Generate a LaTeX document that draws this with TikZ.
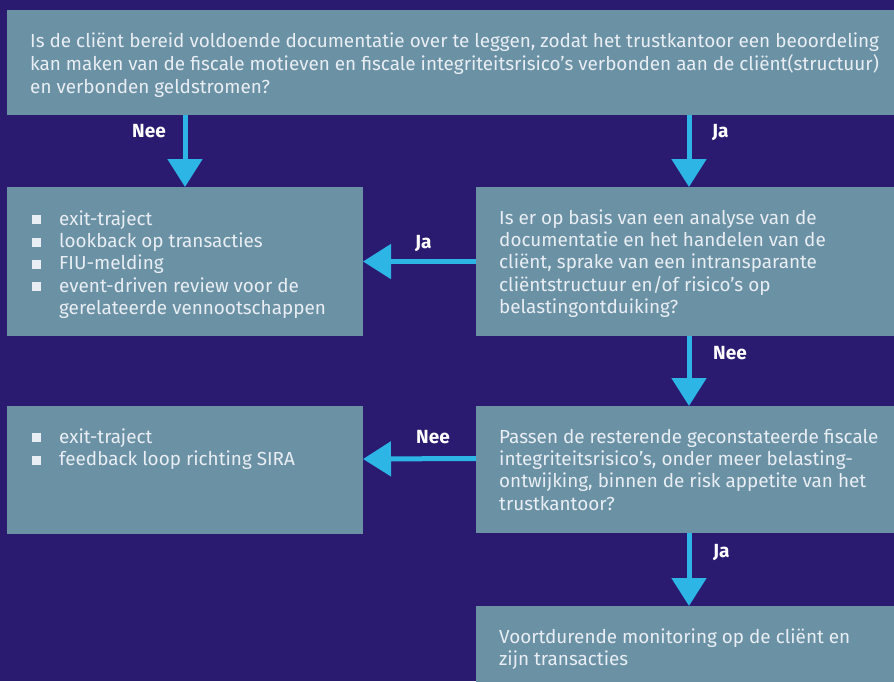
\documentclass[tikz,border=0pt]{standalone}
\usepackage{fontspec}
\setmainfont{Fira Sans}
\usetikzlibrary{arrows.meta}
\definecolor{bg}{HTML}{2A1B71}
\definecolor{boxc}{HTML}{6B91A5}
\definecolor{arrc}{HTML}{2DB5E6}
\definecolor{txtc}{HTML}{E8EEF3}
\newcommand{\bul}{\raisebox{1pt}{\rule{9pt}{9pt}}\hspace{18pt}}
\begin{document}
\begin{tikzpicture}[x=1pt,y=-1pt,
 box/.style={fill=boxc, draw=none, anchor=north west, inner sep=0pt, outer sep=0pt},
 txt/.style={anchor=north west, inner sep=0pt, align=left, text=txtc, font=\fontsize{18.9}{22.3}\selectfont},
 lbl/.style={anchor=base west, inner sep=0pt, text=white, font=\fontsize{19}{20}\selectfont\bfseries},
 arr/.style={draw=arrc, line width=5pt, -{Triangle[width=34pt,length=28pt]}}]
\fill[bg] (0,0) rectangle (894,681);
\useasboundingbox (0,0) rectangle (894,681);
\clip (0,0) rectangle (894,681);
% boxes
\node[box, minimum width=895pt, minimum height=105pt] (q1) at (7,10) {};
\node[box, minimum width=356pt, minimum height=149pt] (l1) at (7,187) {};
\node[box, minimum width=426pt, minimum height=149pt] (r1) at (476,187) {};
\node[box, minimum width=356pt, minimum height=128pt] (l2) at (7,406) {};
\node[box, minimum width=426pt, minimum height=127pt] (r2) at (476,406) {};
\node[box, minimum width=426pt, minimum height=100pt] (r3) at (476,606) {};
% texts
\node[txt] (t1) at (30,31.4) {\strut Is de cliënt bereid voldoende documentatie over te leggen, zodat het trustkantoor een beoordeling\\
kan maken van de fiscale motieven en fiscale integriteitsrisico’s verbonden aan de cliënt(structuur)\\
en verbonden geldstromen?};
\node[txt] (t2) at (32,209.4) {\strut\bul exit-traject\\
\bul lookback op transacties\\
\bul FIU-melding\\
\bul event-driven review voor de\\
\hspace{27pt}gerelateerde vennootschappen};
\node[txt] (t3) at (499,208.4) {\strut Is er op basis van een analyse van de\\
documentatie en het handelen van de\\
cliënt, sprake van een intransparante\\
cliëntstructuur en/of risico’s op\\
belastingontduiking?};
\node[txt] (t4) at (32,427.4) {\strut\bul exit-traject\\
\bul feedback loop richting SIRA};
\node[txt] (t5) at (499,427.4) {\strut Passen de resterende geconstateerde fiscale\\
integriteitsrisico’s, onder meer belasting-\\
ontwijking, binnen de risk appetite van het\\
trustkantoor?};
\node[txt] (t6) at (499,627.4) {\strut Voortdurende monitoring op de cliënt en\\
zijn transacties};
% connectors
\draw[arr] (q1.south -| l1.north) -- (l1.north);
\draw[arr] (q1.south -| r1.north) -- (r1.north);
\draw[arr] (r1.west) -- (l1.east);
\draw[arr] (r1.south) -- (r2.north);
\draw[arr] ([yshift=11pt]r2.west) -- ([yshift=11pt]l2.east);
\draw[arr] (r2.south) -- (r3.north);
% labels
\node[lbl] (n1) at (132,137) {Nee};
\node[lbl] (j1) at (712,137) {Ja};
\node[lbl] (j2) at (415,248) {Ja};
\node[lbl] (n2) at (713,359) {Nee};
\node[lbl] (n3) at (416,443) {Nee};
\node[lbl] (j3) at (713,557) {Ja};
\end{tikzpicture}
\end{document}
